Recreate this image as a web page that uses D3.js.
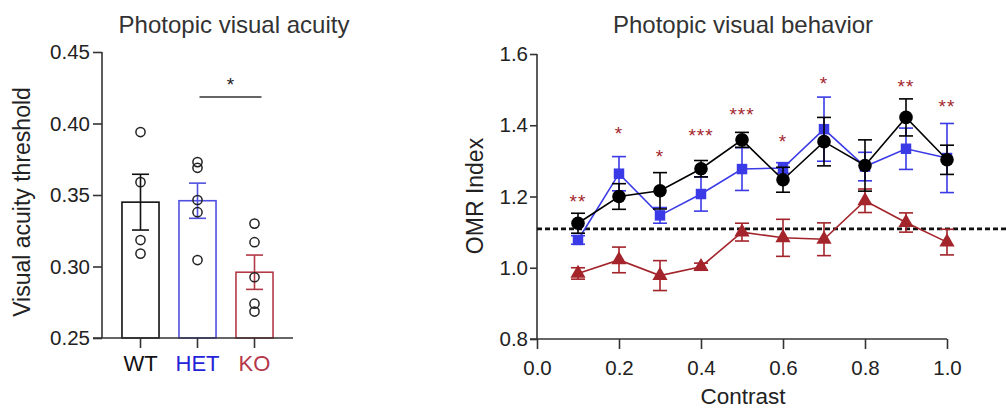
<!DOCTYPE html>
<html>
<head>
<meta charset="utf-8">
<script src="https://cdn.jsdelivr.net/npm/d3@7"></script>
<style>
  body { margin: 0; background: #fff; }
  svg text { font-family: "Liberation Sans", Arial, Helvetica, sans-serif; }
</style>
</head>
<body>
<div id="chart"></div>
<script>
// ---- left panel data: visual acuity threshold ----
const groups = ["WT", "HET", "KO"];
const groupMean = [0.345, 0.346, 0.296];
const groupSem = [0.0195, 0.0123, 0.012];
const wtPoints = [0.394, 0.359, 0.3185, 0.309];
const hetPoints = [0.373, 0.369, 0.3465, 0.338, 0.3045];
const koPoints = [0.330, 0.317, 0.2925, 0.274, 0.2685];
const acuityTicks = [0.25, 0.30, 0.35, 0.40, 0.45];

// ---- right panel data: OMR index vs contrast ----
const contrast = [0.1, 0.2, 0.3, 0.4, 0.5, 0.6, 0.7, 0.8, 0.9, 1.0];
const wtMean = [1.125, 1.200, 1.216, 1.278, 1.359, 1.247, 1.354, 1.287, 1.422, 1.303];
const wtSem = [0.028, 0.036, 0.051, 0.023, 0.021, 0.035, 0.068, 0.072, 0.052, 0.041];
const hetMean = [1.078, 1.264, 1.147, 1.207, 1.277, 1.280, 1.389, 1.284, 1.334, 1.308];
const hetSem = [0.012, 0.048, 0.022, 0.048, 0.060, 0.015, 0.090, 0.040, 0.058, 0.097];
const koMean = [0.984, 1.022, 0.978, 1.003, 1.100, 1.084, 1.080, 1.188, 1.127, 1.072];
const koSem = [0.016, 0.036, 0.042, 0.010, 0.025, 0.052, 0.046, 0.033, 0.027, 0.036];
const starLabels = ["**", "*", "*", "***", "***", "*", "*", "", "**", "**"];
const starLevel = [1.197, 1.387, 1.323, 1.380, 1.441, 1.364, 1.527, null, 1.518, 1.462];
const chanceLevel = 1.109;
const omrTicks = [0.8, 1.0, 1.2, 1.4, 1.6];
const contrastTicks = [0.0, 0.2, 0.4, 0.6, 0.8, 1.0];

const width = 1006;
const height = 409;
const black = "#111";
const blue = "#3a3ae6";
const red = "#a3242a";
const koText = "#b5364a";

const svg = d3.select("#chart")
  .append("svg")
  .attr("width", width)
  .attr("height", height);

// ================= left panel =================
const left = svg.append("g");

const yA = d3.scaleLinear().domain([0.25, 0.45]).range([338, 52]);
const xA = d3.scaleBand().domain(groups).range([112, 283])
  .paddingInner(0.35).paddingOuter(0.175);

const groupStroke = { WT: black, HET: "#5050e0", KO: "#b23a46" };
const groupLabel = { WT: "#111", HET: "#2323d8", KO: koText };
const groupPoints = { WT: wtPoints, HET: hetPoints, KO: koPoints };

left.append("text")
  .attr("x", 234).attr("y", 33)
  .attr("text-anchor", "middle")
  .attr("font-size", 24)
  .attr("fill", "#333")
  .text("Photopic visual acuity");

left.append("text")
  .attr("transform", "translate(30,202) rotate(-90)")
  .attr("text-anchor", "middle")
  .attr("font-size", 23)
  .attr("fill", "#222")
  .text("Visual acuity threshold");

// bars
left.selectAll("rect.bar")
  .data(groups)
  .enter()
  .append("rect")
  .attr("class", "bar")
  .attr("x", d => xA(d))
  .attr("y", (d, i) => yA(groupMean[i]))
  .attr("width", xA.bandwidth())
  .attr("height", (d, i) => yA(0.25) - yA(groupMean[i]))
  .attr("fill", "none")
  .attr("stroke", d => groupStroke[d])
  .attr("stroke-width", 1.6);

// error bars
groups.forEach((g, i) => {
  const cx = xA(g) + xA.bandwidth() / 2;
  const eb = left.append("g").attr("stroke", groupStroke[g]).attr("stroke-width", 1.6);
  eb.append("line").attr("x1", cx).attr("x2", cx)
    .attr("y1", yA(groupMean[i] + groupSem[i])).attr("y2", yA(groupMean[i] - groupSem[i]));
  [groupMean[i] + groupSem[i], groupMean[i] - groupSem[i]].forEach(v => {
    eb.append("line").attr("x1", cx - 8.5).attr("x2", cx + 8.5)
      .attr("y1", yA(v)).attr("y2", yA(v));
  });
});

// individual points
groups.forEach(g => {
  const cx = xA(g) + xA.bandwidth() / 2;
  left.selectAll(null)
    .data(groupPoints[g])
    .enter()
    .append("circle")
    .attr("cx", cx)
    .attr("cy", d => yA(d))
    .attr("r", 4.6)
    .attr("fill", "none")
    .attr("stroke", "#222")
    .attr("stroke-width", 1.5);
});

// y axis
const yAxisA = left.append("g")
  .attr("transform", "translate(102,0)")
  .call(d3.axisLeft(yA).tickValues(acuityTicks).tickFormat(d3.format(".2f")).tickSize(9).tickPadding(3));
yAxisA.select(".domain").remove();
yAxisA.selectAll(".tick line").attr("stroke", "#333").attr("stroke-width", 1.6);
yAxisA.selectAll(".tick text").attr("font-size", 20.5).attr("fill", "#222");
left.append("line").attr("x1", 102).attr("x2", 102).attr("y1", yA(0.45)).attr("y2", yA(0.25))
  .attr("stroke", "#333").attr("stroke-width", 1.6);

// x axis
const xAxisA = left.append("g")
  .attr("transform", "translate(0,338)")
  .call(d3.axisBottom(xA).tickSize(10).tickPadding(7));
xAxisA.select(".domain").remove();
xAxisA.selectAll(".tick line").attr("stroke", "#333").attr("stroke-width", 1.6);
xAxisA.selectAll(".tick text")
  .attr("font-size", 22)
  .attr("fill", d => groupLabel[d]);
left.append("line").attr("x1", 93).attr("x2", 293).attr("y1", 338).attr("y2", 338)
  .attr("stroke", "#333").attr("stroke-width", 1.6);

// significance bracket HET vs KO
const sigY = yA(0.4185);
const sigX1 = xA("HET") + xA.bandwidth() / 2 + 2;
const sigX2 = xA("KO") + xA.bandwidth() / 2 + 7;
left.append("line").attr("x1", sigX1).attr("x2", sigX2).attr("y1", sigY).attr("y2", sigY)
  .attr("stroke", "#333").attr("stroke-width", 1.6);
left.append("text")
  .attr("x", (sigX1 + sigX2) / 2).attr("y", sigY - 6)
  .attr("text-anchor", "middle")
  .attr("font-size", 19)
  .attr("fill", "#222")
  .text("*");

// ================= right panel =================
const right = svg.append("g");

const xB = d3.scaleLinear().domain([0, 1]).range([537, 947]);
const yB = d3.scaleLinear().domain([0.8, 1.6]).range([339, 54]);

right.append("text")
  .attr("x", 743).attr("y", 33)
  .attr("text-anchor", "middle")
  .attr("font-size", 24)
  .attr("fill", "#333")
  .text("Photopic visual behavior");

right.append("text")
  .attr("transform", "translate(483,196) rotate(-90)")
  .attr("text-anchor", "middle")
  .attr("font-size", 23)
  .attr("fill", "#222")
  .text("OMR Index");

right.append("text")
  .attr("x", 743).attr("y", 404)
  .attr("text-anchor", "middle")
  .attr("font-size", 22.5)
  .attr("fill", "#222")
  .text("Contrast");

// axes
const yAxisB = right.append("g")
  .attr("transform", "translate(537,0)")
  .call(d3.axisLeft(yB).tickValues(omrTicks).tickFormat(d3.format(".1f")).tickSize(7).tickPadding(2));
yAxisB.select(".domain").remove();
yAxisB.selectAll(".tick line").attr("stroke", "#333").attr("stroke-width", 1.6);
yAxisB.selectAll(".tick text").attr("font-size", 20.5).attr("fill", "#222");
right.append("line").attr("x1", 537).attr("x2", 537).attr("y1", yB(1.6)).attr("y2", yB(0.8))
  .attr("stroke", "#333").attr("stroke-width", 1.6);

const xAxisB = right.append("g")
  .attr("transform", "translate(0,339)")
  .call(d3.axisBottom(xB).tickValues(contrastTicks).tickFormat(d3.format(".1f")).tickSize(10).tickPadding(11));
xAxisB.select(".domain").remove();
xAxisB.selectAll(".tick line").attr("stroke", "#333").attr("stroke-width", 1.6);
xAxisB.selectAll(".tick text").attr("font-size", 20.5).attr("fill", "#222");
right.append("line").attr("x1", 530).attr("x2", 947).attr("y1", 339).attr("y2", 339)
  .attr("stroke", "#333").attr("stroke-width", 1.6);

// chance level dashed line
right.append("line")
  .attr("x1", 537).attr("x2", width)
  .attr("y1", yB(chanceLevel)).attr("y2", yB(chanceLevel))
  .attr("stroke", "#111")
  .attr("stroke-width", 2.6)
  .attr("stroke-dasharray", "5,3");

function drawSeries(mean, sem, color, marker) {
  const data = contrast.map((c, i) => ({ c: c, m: mean[i], s: sem[i] }));
  const g = right.append("g");

  g.append("path")
    .datum(data)
    .attr("fill", "none")
    .attr("stroke", color)
    .attr("stroke-width", 1.6)
    .attr("d", d3.line().x(d => xB(d.c)).y(d => yB(d.m)));

  const eb = g.selectAll("g.err").data(data).enter().append("g")
    .attr("stroke", color).attr("stroke-width", 1.6);
  eb.append("line")
    .attr("x1", d => xB(d.c)).attr("x2", d => xB(d.c))
    .attr("y1", d => yB(d.m + d.s)).attr("y2", d => yB(d.m - d.s));
  eb.append("line")
    .attr("x1", d => xB(d.c) - 7).attr("x2", d => xB(d.c) + 7)
    .attr("y1", d => yB(d.m + d.s)).attr("y2", d => yB(d.m + d.s));
  eb.append("line")
    .attr("x1", d => xB(d.c) - 7).attr("x2", d => xB(d.c) + 7)
    .attr("y1", d => yB(d.m - d.s)).attr("y2", d => yB(d.m - d.s));

  g.selectAll("path.mk").data(data).enter().append("path")
    .attr("class", "mk")
    .attr("transform", d => `translate(${xB(d.c)},${yB(d.m)})`)
    .attr("d", d3.symbol().type(marker.type).size(marker.size))
    .attr("fill", color);
}

drawSeries(koMean, koSem, red, { type: d3.symbolTriangle, size: 100 });
drawSeries(hetMean, hetSem, blue, { type: d3.symbolSquare, size: 110 });
drawSeries(wtMean, wtSem, "#000", { type: d3.symbolCircle, size: 145 });

// significance stars (KO vs WT)
right.selectAll("text.star")
  .data(contrast.map((c, i) => ({ c: c, label: starLabels[i], v: starLevel[i] })).filter(d => d.label))
  .enter()
  .append("text")
  .attr("class", "star")
  .attr("x", d => xB(d.c))
  .attr("y", d => yB(d.v) + 10)
  .attr("text-anchor", "middle")
  .attr("font-size", 19)
  .attr("letter-spacing", 1)
  .attr("fill", "#a3262c")
  .text(d => d.label);
</script>
</body>
</html>
